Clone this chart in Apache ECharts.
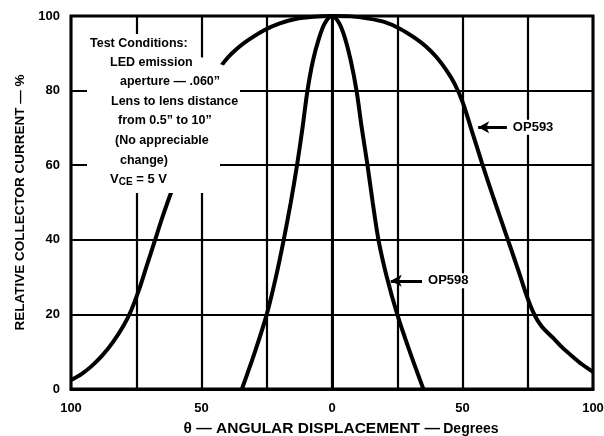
<!DOCTYPE html>
<html>
<head>
<meta charset="utf-8">
<script src="https://cdn.jsdelivr.net/npm/echarts@6/dist/echarts.min.js"></script>
<style>html,body{margin:0;padding:0;background:#fff}#c{width:604px;height:436px}</style>
</head>
<body>
<div id="c"></div>
<script>
// ---- data ----
const op593Angle = [-100,-96,-92,-88,-84,-80,-77,-74,-71,-68,-65,-62,-56,-50,-46,-43,-40,-36,-32,-26,-20,-14,-7,0,7,14,20,26,32,36,40,44,47,50,53,57.5,62,67.4,72,74,76,78,80,82,85,88,92,96,100];
const op593Value = [2.4,4,6.2,9,12.5,16.8,21,26.5,33,39.5,46,52,63.5,75,82,86,88.8,91.5,93.6,96.2,98,99.2,99.8,100,99.9,99.3,98.4,96.6,94,91.8,89,85.3,81.8,77,70.5,60.5,51,40,30.5,26.2,22.4,19.3,17.1,15.5,13.5,11.3,8.8,6.5,4.6];
const op598Angle = [-34.5,-29.5,-25,-21.5,-18.5,-15.8,-13.4,-11.3,-9.4,-7.3,-5,-2.8,0,2.8,5,7.2,9.4,11.4,13.6,15.6,17.8,21,25,29.8,35];
const op598Value = [0,10,20,30,40,50,60,70,80,88,94,98,100,98,94,88,80,70,60,50,40,30,20,10,0];
const seriesNames = ['OP593','OP598'];
// annotation arrows: [tailAngle, tipAngle, value]
const op593Arrow = [67, 56, 70.2];
const op598Arrow = [34.5, 22.5, 29];
const xTickLabels = {'-100':'100','-50':'50','0':'0','50':'50','100':'100'};
const conditionLines = ['Test Conditions:','LED emission','aperture \u2014 .060\u201d','Lens to lens distance','from 0.5\u201d to 10\u201d','(No appreciable','change)'];

const FONT = '"Liberation Sans",Arial,sans-serif';
const pairs = (xs, ys) => xs.map((x, i) => [x, ys[i]]);

function arrowLine(a, name) {
  return {
    silent: true,
    symbol: ['none', 'arrow'],
    symbolSize: [9, 11],
    lineStyle: { color: '#000', width: 3, type: 'solid' },
    label: {
      show: true, position: 'start', formatter: name, color: '#000',
      fontFamily: FONT, fontWeight: 'bold', fontSize: 13,
      backgroundColor: '#fff', padding: [1, 1], distance: 5
    },
    emphasis: { disabled: true },
    data: [[{ coord: [a[0], a[2]] }, { coord: [a[1], a[2]] }]]
  };
}

const chart = echarts.init(document.getElementById('c'), null, { renderer: 'canvas' });
const indents = [90, 110, 120, 111, 118, 115, 120];
const ys = [45, 64, 83, 103, 122, 142, 162];
const graphics = [{
  type: 'polygon', z: 10, silent: true,
  shape: { points: [[87,34],[198,34],[198,56],[220,64],[240,72],[240,116],[220,124],[220,193],[87,193]] },
  style: { fill: '#fff' }
}];
conditionLines.forEach((t, i) => graphics.push({
  type: 'text', z: 11, left: indents[i], top: ys[i] - 8, silent: true,
  style: { text: t, font: 'bold 12.5px ' + FONT, fill: '#000' }
}));
graphics.push({
  type: 'text', z: 11, left: 110, top: 173, silent: true,
  style: {
    text: '{a|V}{b|CE}{a| = 5 V}',
    rich: {
      a: { fontFamily: FONT, fontWeight: 'bold', fontSize: 13, fill: '#000', color: '#000' },
      b: { fontFamily: FONT, fontWeight: 'bold', fontSize: 10, fill: '#000', color: '#000', padding: [6, 0, 0, 0] }
    }
  }
});

chart.setOption({
  animation: false,
  backgroundColor: '#fff',
  grid: { left: 71, right: 11, top: 16, bottom: 47, outerBoundsMode: 'none', containLabel: false, show: true, borderColor: '#000', borderWidth: 3, backgroundColor: 'transparent' },
  xAxis: {
    type: 'value', min: -100, max: 100, interval: 25,
    axisLine: { show: true, lineStyle: { color: '#000', width: 3 } },
    axisTick: { show: false },
    splitLine: { show: true, lineStyle: { color: '#000', width: 2.2 } },
    axisLabel: {
      color: '#000', fontFamily: FONT, fontWeight: 'bold', fontSize: 13, margin: 13,
      formatter: v => (xTickLabels[String(v)] !== undefined ? xTickLabels[String(v)] : '')
    },
    name: '{a|\u03b8 \u2014 ANGULAR DISPLACEMENT \u2014} {b|Degrees}',
    nameLocation: 'middle', nameGap: 32,
    nameTextStyle: {
      padding: [0, 0, 0, 18],
      rich: {
        a: { fontFamily: FONT, fontWeight: 'bold', fontSize: 15.5, color: '#000' },
        b: { fontFamily: FONT, fontWeight: 'bold', fontSize: 14, color: '#000' }
      }
    }
  },
  yAxis: {
    type: 'value', min: 0, max: 100, interval: 20,
    axisLine: { show: true, lineStyle: { color: '#000', width: 3 } },
    axisTick: { show: false },
    splitLine: { show: true, lineStyle: { color: '#000', width: 2.2 } },
    axisLabel: { color: '#000', fontFamily: FONT, fontWeight: 'bold', fontSize: 13, margin: 11 },
    name: 'RELATIVE COLLECTOR CURRENT \u2014 %',
    nameLocation: 'middle', nameGap: 36,
    nameTextStyle: { color: '#000', fontFamily: FONT, fontWeight: 'bold', fontSize: 13.5 }
  },
  series: [
    {
      name: seriesNames[0], type: 'line', data: pairs(op593Angle, op593Value),
      smooth: 0.3, showSymbol: false, z: 5,
      lineStyle: { color: '#000', width: 4 },
      markLine: arrowLine(op593Arrow, seriesNames[0])
    },
    {
      name: seriesNames[1], type: 'line', data: pairs(op598Angle, op598Value),
      smooth: 0.3, showSymbol: false, z: 5,
      lineStyle: { color: '#000', width: 4 },
      markLine: arrowLine(op598Arrow, seriesNames[1])
    }
  ],
  graphic: graphics
});
</script>
</body>
</html>
